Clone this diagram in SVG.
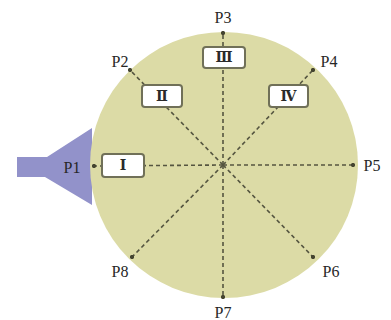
<svg xmlns="http://www.w3.org/2000/svg" width="391" height="320" viewBox="0 0 391 320">
<defs>
<style>
.lbl{font-family:"Liberation Serif","DejaVu Serif",serif;font-size:16px;fill:#262626;text-anchor:middle;dominant-baseline:central}
.box rect{fill:#fff;stroke:#707058;stroke-width:2}
.box text{font-family:"Liberation Serif","DejaVu Serif",serif;font-size:14px;font-weight:bold;fill:#2a2a2a;text-anchor:middle;dominant-baseline:central}
.ray{stroke:#555540;stroke-width:1.6;stroke-dasharray:4 3;fill:none;marker-end:url(#dot)}
</style>
<marker id="dot" viewBox="0 0 6 6" refX="3" refY="3" markerWidth="3" markerHeight="3" markerUnits="strokeWidth"><circle cx="3" cy="3" r="2.6" fill="#444430"/></marker>
</defs>
<g id="inlet"><path d="M17,157 L47,157 L92,128 L92,205 L45,177 L17,177 Z" fill="#9292ca"/></g>
<g id="chamber"><ellipse cx="224" cy="165" rx="134" ry="133" fill="#dcdba6"/></g>
<g id="connectors">
<line class="ray" x1="223" y1="165" x2="94" y2="166"/>
<line class="ray" x1="223" y1="165" x2="130" y2="70"/>
<line class="ray" x1="223" y1="165" x2="223" y2="33"/>
<line class="ray" x1="223" y1="165" x2="313" y2="70"/>
<line class="ray" x1="223" y1="165" x2="353" y2="165"/>
<line class="ray" x1="223" y1="165" x2="313" y2="257"/>
<line class="ray" x1="223" y1="165" x2="223" y2="297"/>
<line class="ray" x1="223" y1="165" x2="132" y2="257"/>
</g>
<g id="box-I" class="box"><rect x="102" y="154" width="42" height="23" rx="3"/><text x="123" y="165.5">Ⅰ</text></g>
<g id="box-II" class="box"><rect x="142" y="85" width="40" height="22" rx="3"/><text x="162" y="96">Ⅱ</text></g>
<g id="box-III" class="box"><rect x="203" y="47" width="42" height="21" rx="3"/><text x="224" y="57.5">Ⅲ</text></g>
<g id="box-IV" class="box"><rect x="269" y="85" width="39" height="22" rx="3"/><text x="288.5" y="96">Ⅳ</text></g>
<g id="labels">
<text id="P1" class="lbl" x="72" y="167">P1</text>
<text id="P2" class="lbl" x="120" y="61">P2</text>
<text id="P3" class="lbl" x="223" y="17">P3</text>
<text id="P4" class="lbl" x="329" y="61">P4</text>
<text id="P5" class="lbl" x="372" y="165">P5</text>
<text id="P6" class="lbl" x="331" y="271">P6</text>
<text id="P7" class="lbl" x="223" y="312">P7</text>
<text id="P8" class="lbl" x="120" y="271">P8</text>
</g>
</svg>
